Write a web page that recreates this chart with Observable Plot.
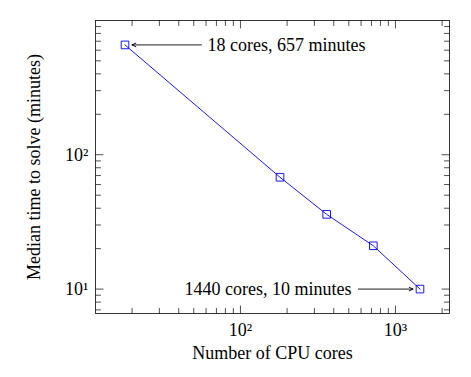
<!DOCTYPE html>
<html>
<head>
<meta charset="utf-8">
<script src="https://cdn.jsdelivr.net/npm/d3@7"></script>
<script src="https://cdn.jsdelivr.net/npm/@observablehq/plot@0.6"></script>
<style>
  html, body { margin: 0; padding: 0; background: #fff; }
  #chart svg, #chart svg text { font-family: "Liberation Serif", "DejaVu Serif", serif !important; }
</style>
</head>
<body>
<div id="chart"></div>
<script>
// ---- data ----
const cores = [18, 180, 360, 720, 1440];
const minutes = [657, 68, 36, 21, 10];

const annText = ["18 cores, 657 minutes", "1440 cores, 10 minutes"];
const annCores = [18, 1440];
const annMinutes = [657, 10];
const annTailCores = [56, 577];

const xMajorTicks = [100, 1000];
const xMinorTicks = [20, 30, 40, 50, 60, 70, 80, 90, 200, 300, 400, 500, 600, 700, 800, 900, 2000];
const yMajorTicks = [10, 100];
const yMinorTicks = [7, 8, 9, 20, 30, 40, 50, 60, 70, 80, 90, 200, 300, 400, 500, 600, 700, 800, 900];

const xLabel = "Number of CPU cores";
const yLabel = "Median time to solve (minutes)";
// -------------

const points = cores.map((c, i) => ({cores: c, minutes: minutes[i]}));
const anns = annText.map((t, i) => ({text: t, cores: annCores[i], minutes: annMinutes[i], tail: annTailCores[i], anchor: i === 0 ? "start" : "end"}));

function padLog(vals, f) {
  const lo = Math.log10(d3.min(vals)), hi = Math.log10(d3.max(vals));
  const r = hi - lo;
  return [Math.pow(10, lo - f * r), Math.pow(10, hi + f * r)];
}

const sup = {"1": "\u00B9", "2": "\u00B2", "3": "\u00B3"};
const fmtPow = d => "10" + sup[String(Math.round(Math.log10(d)))];

const tickShape = {draw(ctx, l) { ctx.moveTo(0, 0); ctx.lineTo(0, -l); }};
const MAJ = 7.5, MIN = 5, TW = 0.8;
const FONT = "Liberation Serif";

function ticks(vals, channel, frameAnchor, rotate, len) {
  return Plot.vector(vals, {[channel]: d => d, frameAnchor, rotate, length: len, anchor: "start", shape: tickShape, stroke: "#222", strokeWidth: TW});
}

const chart = Plot.plot({
  width: 471,
  height: 377,
  marginLeft: 95,
  marginRight: 22,
  marginTop: 20,
  marginBottom: 64,
  style: "font-family: 'Liberation Serif', serif; font-size: 18px; background: #fff; color: #000;",
  x: {type: "log", domain: padLog(cores, 0.1)},
  y: {type: "log", domain: padLog(minutes, 0.1)},
  marks: [
    Plot.axisX({ticks: xMajorTicks, tickFormat: fmtPow, tickSize: 0, tickPadding: 10, fontSize: 18, fontFamily: FONT,
      label: xLabel, labelAnchor: "center", labelOffset: 45, labelArrow: "none"}),
    Plot.axisY({ticks: yMajorTicks, tickFormat: fmtPow, tickSize: 0, tickPadding: 7, fontSize: 18, fontFamily: FONT,
      label: yLabel, labelAnchor: "center", labelOffset: 68, labelArrow: "none"}),
    ticks(xMajorTicks, "x", "bottom", 0, MAJ),
    ticks(xMinorTicks, "x", "bottom", 0, MIN),
    ticks(xMajorTicks, "x", "top", 180, MAJ),
    ticks(xMinorTicks, "x", "top", 180, MIN),
    ticks(yMajorTicks, "y", "left", 90, MAJ),
    ticks(yMinorTicks, "y", "left", 90, MIN),
    ticks(yMajorTicks, "y", "right", -90, MAJ),
    ticks(yMinorTicks, "y", "right", -90, MIN),
    Plot.frame({stroke: "#222", strokeWidth: 0.9}),
    Plot.line(points, {x: "cores", y: "minutes", stroke: "#0000ff", strokeWidth: 0.9}),
    Plot.dot(points, {x: "cores", y: "minutes", symbol: "square", r: 4.3, stroke: "#0000ff", fill: "none", strokeWidth: 0.9}),
    Plot.arrow(anns, {x1: "tail", y1: "minutes", x2: "cores", y2: "minutes", insetEnd: 7, headLength: 7, headAngle: 50, stroke: "#000", strokeWidth: 0.9}),
    Plot.text(anns.filter(d => d.anchor === "start"), {x: "tail", y: "minutes", text: "text", textAnchor: "start", dx: 6, fontSize: 18, fontFamily: FONT, fill: "#000"}),
    Plot.text(anns.filter(d => d.anchor === "end"), {x: "tail", y: "minutes", text: "text", textAnchor: "end", dx: -7, fontSize: 18, fontFamily: FONT, fill: "#000"})
  ]
});
document.getElementById("chart").appendChild(chart);
</script>
</body>
</html>
